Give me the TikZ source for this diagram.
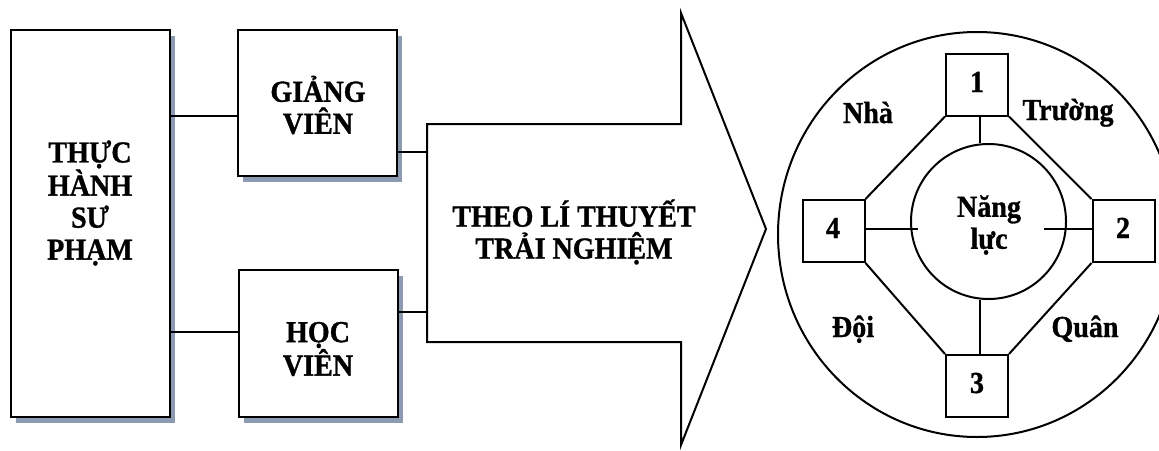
\documentclass[tikz,border=0pt]{standalone}
\usepackage{fontspec}
\setmainfont{Liberation Serif}[FakeStretch=0.92,FakeBold=1.0]
\usetikzlibrary{shadows,calc}
\definecolor{shadowgray}{RGB}{141,155,178}
\begin{document}
\begin{tikzpicture}[x=1pt,y=-1pt,
  every node/.style={font=\bfseries\fontsize{30.5}{32}\selectfont},
  line/.style={line width=2pt},
  box/.style={draw,line width=2pt,fill=white,inner sep=0pt,
    drop shadow={shadow xshift=5pt,shadow yshift=-6pt,fill=shadowgray,opacity=1}},
  numbox/.style={draw,line width=2pt,fill=white,inner sep=0pt,minimum width=62pt,minimum height=62pt},
  lbl/.style={align=center,inner sep=0pt}]
\useasboundingbox (0,0) rectangle (1159,450);

% left column of boxes
\node[box,minimum width=159pt,minimum height=387pt] (tp) at (90.3,223.5) {};
\node[lbl] at (90,203) {THỰC\\HÀNH\\SƯ\\PHẠM};
\node[box,minimum width=159pt,minimum height=146pt] (gv) at (317.5,103) {};
\node[lbl] at (318,105) {GIẢNG\\VIÊN};
\node[box,minimum width=159pt,minimum height=147pt] (hv) at (318.5,343.5) {};
\node[lbl] at (318,349) {HỌC\\VIÊN};

% big arrow
\coordinate (a1) at (427,124);
\coordinate (a2) at (681,124);
\coordinate (a3) at (681,13);
\coordinate (tip) at (766,229);
\coordinate (a4) at (681,445);
\coordinate (a5) at (681,342);
\coordinate (a6) at (427,342);
\draw[line,line join=miter] (a1) -- (a2) -- (a3) -- (tip) -- (a4) -- (a5) -- (a6) -- cycle;
\node[lbl] (arrtxt) at (574,232) {THEO LÍ THUYẾT\\TRẢI NGHIỆM};

% connectors on the left
\coordinate (g1) at ([yshift=-13pt]gv.west);
\draw[line] (tp.east |- g1) -- (g1);
\coordinate (h1) at ([yshift=11.5pt]hv.west);
\draw[line] (tp.east |- h1) -- (h1);
\coordinate (g2) at ([yshift=-49pt]gv.east);
\draw[line] (g2) -- (a1 |- g2);
\coordinate (h2) at ([yshift=31.5pt]hv.east);
\draw[line] (h2) -- (a1 |- h2);

% outer circle
\draw[line] (977,234.5) ellipse [x radius=199, y radius=202.5];

% inner circle and the four numbered boxes
\node[draw,line width=2pt,circle,minimum size=155pt,inner sep=0pt] (nc) at (988.5,221.5) {};
\node[lbl] at (989,225) {Năng\\lực};
\node[numbox] (b1) at (977,84.5) {};
\node[numbox] (b2) at (1123.5,231) {};
\node[numbox] (b3) at (977,386) {};
\node[numbox] (b4) at (833.5,231) {};
\node[anchor=base,inner sep=0pt] at (977,92) {1};
\node[anchor=base,inner sep=0pt] at (1123,238) {2};
\node[anchor=base,inner sep=0pt] at (977,393) {3};
\node[anchor=base,inner sep=0pt] at (833,238) {4};

% ring connections
\draw[line] (b1.south west) -- (b4.north east);
\draw[line] (b1.south east) -- (b2.north west);
\draw[line] (b4.south east) -- (b3.north west);
\draw[line] (b2.south west) -- (b3.north east);

% spokes toward the centre
\draw[line] ([xshift=3pt]b1.south) -- ([xshift=3pt]b1.south |- nc.north);
\draw[line] ([xshift=3pt]b3.north) -- ([xshift=3pt]b3.north |- nc.south);
\draw[line] ([yshift=2pt]b4.east) -- ([xshift=8pt,yshift=2pt]nc.west |- b4.east);
\draw[line] ([yshift=2pt]b2.west) -- ([xshift=-23pt,yshift=2pt]nc.east |- b2.west);

% sector labels
\node[anchor=base,inner sep=0pt] at (868,123) {Nhà};
\node[anchor=base,inner sep=0pt] at (1068,120) {Trường};
\node[anchor=base,inner sep=0pt] at (853,337) {Đội};
\node[anchor=base,inner sep=0pt] at (1085,337) {Quân};
\end{tikzpicture}
\end{document}
